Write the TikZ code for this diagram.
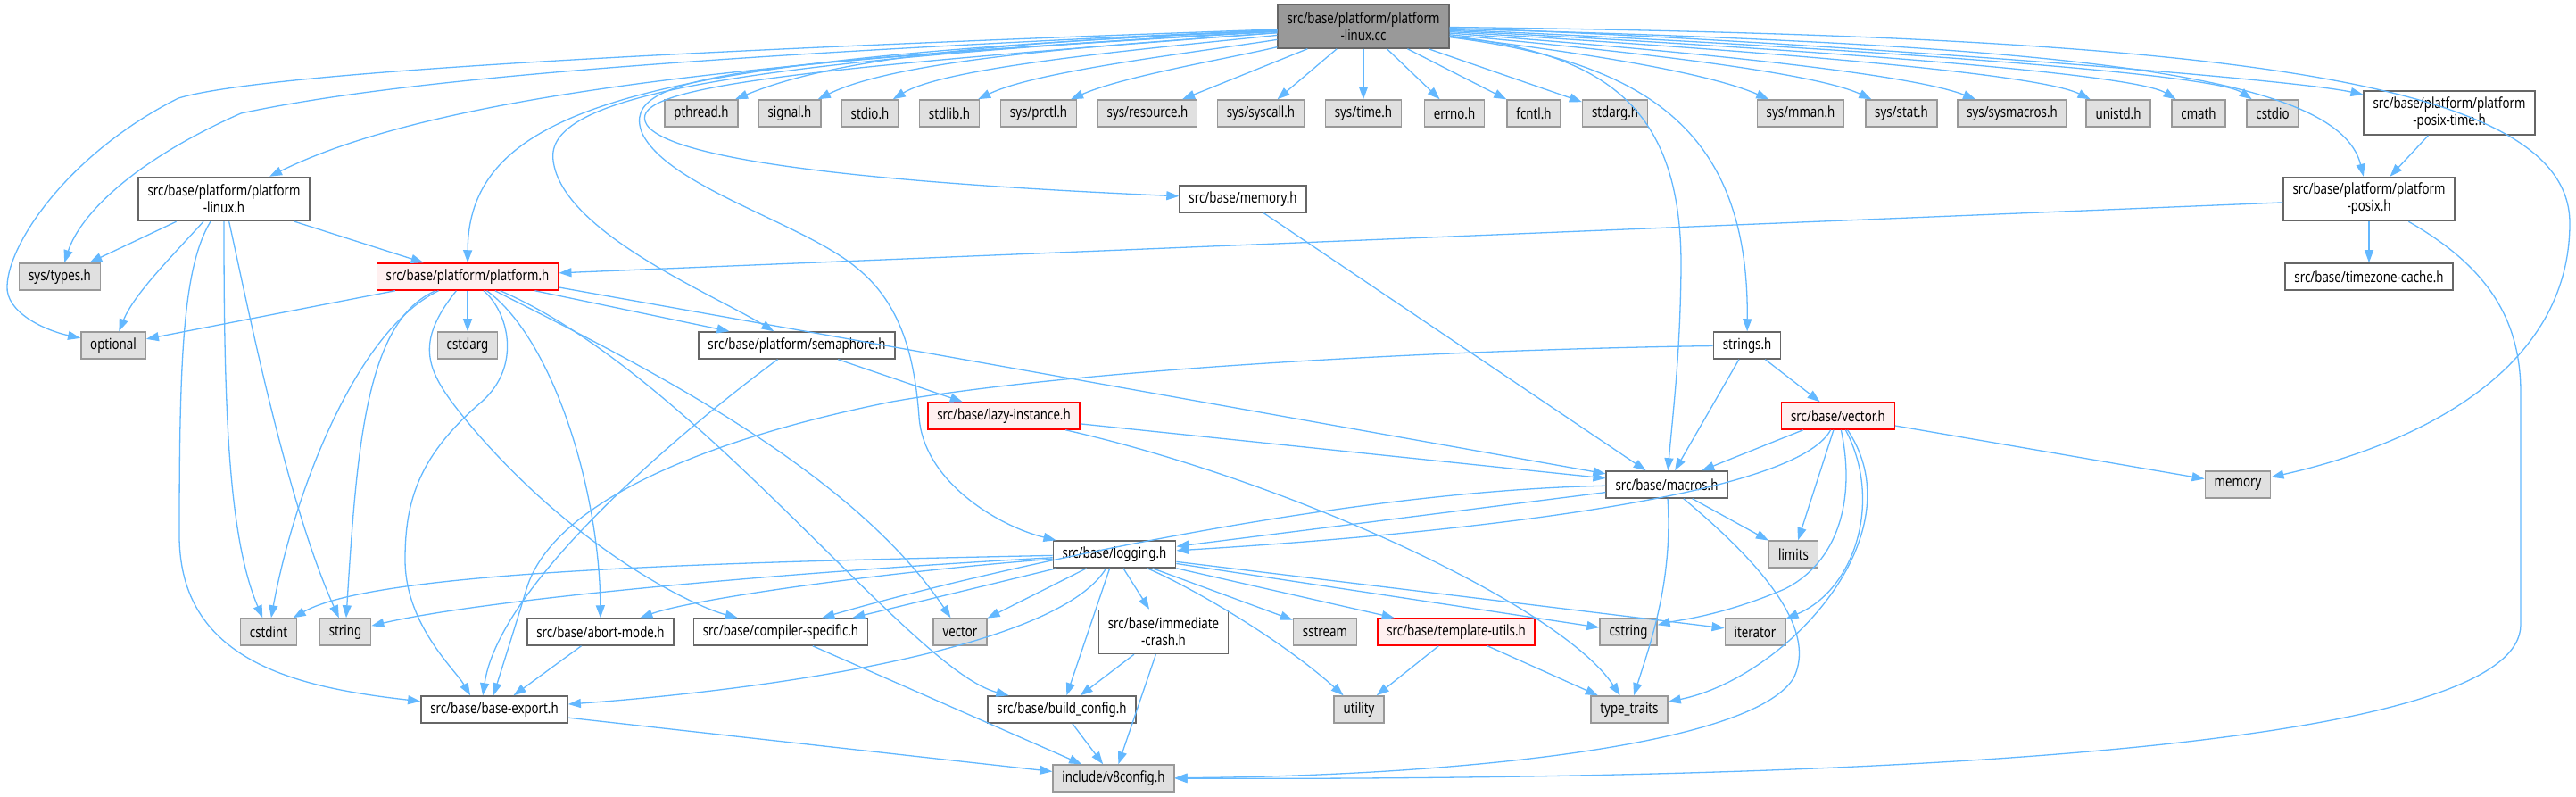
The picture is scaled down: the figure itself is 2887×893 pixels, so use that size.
\documentclass[tikz,border=0pt]{standalone}
\usepackage{fontspec}
\setmainfont{Noto Sans}[FakeStretch=0.79]
\usetikzlibrary{arrows.meta}

\definecolor{edgeblue}{HTML}{63B8FF}
\definecolor{sysfill}{HTML}{E0E0E0}
\definecolor{sysgray}{HTML}{999999}
\definecolor{hdrgray}{HTML}{666666}
\definecolor{redfill}{HTML}{FFF0F0}

\begin{document}
\begin{tikzpicture}[x=0.5pt, y=-0.5pt,
    incbox/.style={font=\fontsize{8.4}{9.5}\selectfont, inner xsep=5.2pt, inner ysep=0pt,
      minimum height=15pt, line width=0.75pt, align=center},
    sys/.style={incbox, draw=sysgray, fill=sysfill},
    hdr/.style={incbox, draw=hdrgray, fill=white},
    redhdr/.style={incbox, draw=red, fill=redfill},
    rootbox/.style={incbox, draw=hdrgray, fill=sysgray},
    twoline/.style={minimum height=24.5pt},
    dep/.style={draw=edgeblue, line width=0.65pt, -{Triangle[length=7pt,width=5pt]}}]
  \useasboundingbox (0,0) rectangle (2887,893);

  % 起点ファイル
  \node[rootbox, twoline] (root) at (1528,29.5) {src/base/platform/platform\\-linux.cc};

  % 1段目 (システムヘッダ)
  \node[sys] (pthread) at (786,127) {pthread.h};
  \node[sys] (signal) at (885,127) {signal.h};
  \node[sys] (stdio) at (975,127) {stdio.h};
  \node[sys] (stdlib) at (1064,127) {stdlib.h};
  \node[sys] (prctl) at (1164,127) {sys/prctl.h};
  \node[sys] (resource) at (1286,127) {sys/resource.h};
  \node[sys] (syscall) at (1413,127) {sys/syscall.h};
  \node[sys] (systime) at (1528,127) {sys/time.h};
  \node[sys] (errno) at (1630,127) {errno.h};
  \node[sys] (fcntl) at (1719,127) {fcntl.h};
  \node[sys] (stdargh) at (1810,127) {stdarg.h};
  \node[sys] (mman) at (2018,127) {sys/mman.h};
  \node[sys] (stat) at (2131,127) {sys/stat.h};
  \node[sys] (sysmacros) at (2255,127) {sys/sysmacros.h};
  \node[sys] (unistd) at (2374,127) {unistd.h};
  \node[sys] (cmath) at (2464,127) {cmath};
  \node[sys] (cstdio) at (2547,127) {cstdio};
  \node[hdr, twoline] (posixtime) at (2745,126.5) {src/base/platform/platform\\-posix-time.h};

  % 2段目
  \node[hdr, twoline] (linuxh) at (251,223) {src/base/platform/platform\\-linux.h};
  \node[hdr] (memoryh) at (1393,223) {src/base/memory.h};
  \node[hdr, twoline] (posix) at (2655,223) {src/base/platform/platform\\-posix.h};

  % 3段目
  \node[sys] (systypes) at (67,310) {sys/types.h};
  \node[redhdr] (platformh) at (524,310) {src/base/platform/platform.h};
  \node[hdr] (tzcache) at (2655,310) {src/base/timezone-cache.h};

  % 4段目
  \node[sys] (optional) at (127,387) {optional};
  \node[sys] (cstdarg) at (524,387) {cstdarg};
  \node[hdr] (semaphore) at (893,387) {src/base/platform/semaphore.h};
  \node[hdr] (strings) at (1958,387) {strings.h};

  % 5〜7段目
  \node[redhdr] (lazy) at (1125,466) {src/base/lazy-instance.h};
  \node[redhdr] (vectorh) at (2060,466) {src/base/vector.h};
  \node[hdr] (macros) at (1868,543) {src/base/macros.h};
  \node[sys] (memory) at (2508,543) {memory};
  \node[hdr] (logging) at (1249,621) {src/base/logging.h};
  \node[sys] (limits) at (2010,621) {limits};

  % 8段目
  \node[sys] (cstdint) at (301,708) {cstdint};
  \node[sys] (string) at (387,708) {string};
  \node[hdr] (abort) at (673,708) {src/base/abort-mode.h};
  \node[hdr] (compiler) at (875,708) {src/base/compiler-specific.h};
  \node[sys] (vector) at (1076,708) {vector};
  \node[hdr, twoline] (immediate) at (1304,708) {src/base/immediate\\-crash.h};
  \node[sys] (sstream) at (1485,708) {sstream};
  \node[redhdr] (template) at (1632,708) {src/base/template-utils.h};
  \node[sys] (cstring) at (1825,708) {cstring};
  \node[sys] (iterator) at (1967,708) {iterator};

  % 9〜10段目
  \node[hdr] (baseexport) at (554,795) {src/base/base-export.h};
  \node[hdr] (buildconfig) at (1190,795) {src/base/build\_config.h};
  \node[sys] (utility) at (1523,795) {utility};
  \node[sys] (typetraits) at (1826,795) {type\_traits};
  \node[sys] (v8config) at (1248,872) {include/v8config.h};

  % 起点からの依存 (左側)
  \draw[dep] (root) .. controls (800,55) and (300,80) .. (200,110) .. controls (80,170) and (10,270) .. (8,320) .. controls (6,350) and (50,370) .. (optional);
  \draw[dep] (root) .. controls (700,65) and (420,95) .. (270,127) .. controls (150,180) and (90,240) .. (systypes);
  \draw[dep] (root) .. controls (900,65) and (500,100) .. (linuxh);
  \draw[dep] (root) .. controls (750,65) and (525,110) .. (platformh);
  \draw[dep] (root) .. controls (800,70) and (610,110) .. (620,180) .. controls (630,260) and (800,330) .. (semaphore);
  \draw[dep] (root) .. controls (850,70) and (690,80) .. (720,150) .. controls (750,210) and (900,250) .. (960,300) .. controls (1010,340) and (1025,400) .. (1030,467) .. controls (1035,540) and (1120,590) .. (logging);
  \draw[dep] (root) .. controls (850,80) and (700,100) .. (725,140) .. controls (760,190) and (1100,210) .. (memoryh);
  \draw[dep] (root) .. controls (1200,45) and (960,55) .. (pthread);
  \draw[dep] (root) .. controls (1250,50) and (1010,65) .. (signal);
  \draw[dep] (root) .. controls (1280,55) and (1060,75) .. (stdio);
  \draw[dep] (root) .. controls (1330,60) and (1160,80) .. (stdlib);
  \draw[dep] (root) .. controls (1380,65) and (1260,85) .. (prctl);
  \draw[dep] (root) -- (resource);
  \draw[dep] (root) -- (syscall);
  \draw[dep] (root) -- (systime);
  \draw[dep] (root) -- (errno);
  \draw[dep] (root) -- (fcntl);
  \draw[dep] (root) -- (stdargh);

  % 起点からの依存 (右側)
  \draw[dep] (root) .. controls (1700,50) and (1900,75) .. (mman);
  \draw[dep] (root) .. controls (1720,48) and (2020,75) .. (stat);
  \draw[dep] (root) .. controls (1740,46) and (2120,75) .. (sysmacros);
  \draw[dep] (root) .. controls (1760,44) and (2270,75) .. (unistd);
  \draw[dep] (root) .. controls (1780,42) and (2380,75) .. (cmath);
  \draw[dep] (root) .. controls (1800,40) and (2470,75) .. (cstdio);
  \draw[dep] (root) .. controls (1900,38) and (2550,85) .. (posixtime);
  \draw[dep] (root) .. controls (2300,50) and (2620,80) .. (posix);
  \draw[dep] (root) .. controls (2500,40) and (2880,90) .. (2880,250) .. controls (2880,420) and (2700,500) .. (memory);
  \draw[dep] (root) .. controls (1850,70) and (1960,150) .. (strings);
  \draw[dep] (root) .. controls (1800,60) and (1885,120) .. (1884,300) .. controls (1883,400) and (1875,460) .. (macros);

  % platform-linux.h
  \draw[dep] (linuxh) -- (systypes);
  \draw[dep] (linuxh) .. controls (190,290) and (150,330) .. (optional);
  \draw[dep] (linuxh) .. controls (205,300) and (201,400) .. (201,600) .. controls (201,740) and (330,770) .. (baseexport);
  \draw[dep] (linuxh) .. controls (251,450) and (255,600) .. (cstdint);
  \draw[dep] (linuxh) .. controls (275,330) and (320,560) .. (string);
  \draw[dep] (linuxh) -- (platformh);

  % platform.h
  \draw[dep] (platformh) -- (optional);
  \draw[dep] (platformh) -- (cstdarg);
  \draw[dep] (platformh) -- (semaphore);
  \draw[dep] ([yshift=-6pt]platformh.east) -- (macros);
  \draw[dep] (platformh) .. controls (400,370) and (330,550) .. (cstdint);
  \draw[dep] (platformh) .. controls (410,360) and (400,500) .. (string);
  \draw[dep] (platformh) .. controls (570,350) and (585,410) .. (540,450) .. controls (470,510) and (454,560) .. (454,627) .. controls (454,700) and (510,750) .. ([xshift=28pt]baseexport.north west);
  \draw[dep] (platformh) .. controls (460,390) and (480,420) .. (530,480) .. controls (650,620) and (780,680) .. ([xshift=25pt]compiler.north west);
  \draw[dep] (platformh) .. controls (620,380) and (672,550) .. (abort);
  \draw[dep] (platformh) .. controls (700,400) and (950,520) .. (vector);
  \draw[dep] (platformh) .. controls (780,420) and (1020,750) .. (buildconfig);

  % semaphore.h, strings.h, lazy-instance.h, memory.h
  \draw[dep] (semaphore) -- (lazy);
  \draw[dep] (semaphore) .. controls (780,470) and (560,650) .. ([xshift=35pt]baseexport.north west);
  \draw[dep] (strings) .. controls (1600,392) and (1200,415) .. (1000,450) .. controls (800,490) and (620,560) .. (590,660) .. controls (575,710) and (562,750) .. ([xshift=41pt]baseexport.north west);
  \draw[dep] (strings) -- (macros);
  \draw[dep] (strings) -- (vectorh);
  \draw[dep] (lazy) -- (macros);
  \draw[dep] (lazy) .. controls (1450,540) and (1750,680) .. (typetraits);
  \draw[dep] (memoryh) -- (macros);

  % vector.h
  \draw[dep] (vectorh) -- (macros);
  \draw[dep] (vectorh) .. controls (2010,560) and (1600,600) .. (logging);
  \draw[dep] (vectorh) -- (limits);
  \draw[dep] (vectorh) .. controls (2080,560) and (2060,630) .. (2000,660) .. controls (1930,690) and (1880,695) .. (cstring);
  \draw[dep] (vectorh) .. controls (2110,560) and (2080,660) .. (iterator);
  \draw[dep] (vectorh) .. controls (2150,600) and (2000,760) .. (typetraits);
  \draw[dep] (vectorh) -- (memory);

  % macros.h
  \draw[dep] (macros) -- (logging);
  \draw[dep] (macros) .. controls (1500,550) and (1100,640) .. ([xshift=-26pt]compiler.north east);
  \draw[dep] (macros) -- (limits);
  \draw[dep] (macros) .. controls (1875,650) and (1850,720) .. (typetraits);
  \draw[dep] (macros) .. controls (1960,620) and (2040,700) .. (2010,760) .. controls (1960,840) and (1600,870) .. (v8config);

  % logging.h
  \draw[dep] (logging) .. controls (800,630) and (420,640) .. (cstdint);
  \draw[dep] (logging) .. controls (900,640) and (550,670) .. (string);
  \draw[dep] (logging) .. controls (1000,640) and (780,670) .. (abort);
  \draw[dep] (logging) -- ([xshift=-9pt]compiler.north east);
  \draw[dep] (logging) -- (vector);
  \draw[dep] (logging) .. controls (1190,720) and (900,770) .. (baseexport);
  \draw[dep] (logging) -- (buildconfig);
  \draw[dep] (logging) -- (immediate);
  \draw[dep] (logging) .. controls (1340,660) and (1440,720) .. (utility);
  \draw[dep] (logging) -- (sstream);
  \draw[dep] (logging) -- (template);
  \draw[dep] (logging) -- (cstring);
  \draw[dep] (logging) -- (iterator);

  % 下段
  \draw[dep] (immediate) -- (buildconfig);
  \draw[dep] (immediate) -- (v8config);
  \draw[dep] (compiler) -- (v8config);
  \draw[dep] (abort) -- (baseexport);
  \draw[dep] (baseexport) -- (v8config);
  \draw[dep] (buildconfig) -- (v8config);
  \draw[dep] (template) -- (utility);
  \draw[dep] (template) -- (typetraits);

  % platform-posix 系
  \draw[dep] (posixtime) -- (posix);
  \draw[dep] (posix) -- (platformh);
  \draw[dep] (posix) -- (tzcache);
  \draw[dep] (posix) .. controls (2790,300) and (2825,360) .. (2825,440) -- (2825,700) .. controls (2825,820) and (2300,875) .. (v8config);

\end{tikzpicture}
\end{document}
